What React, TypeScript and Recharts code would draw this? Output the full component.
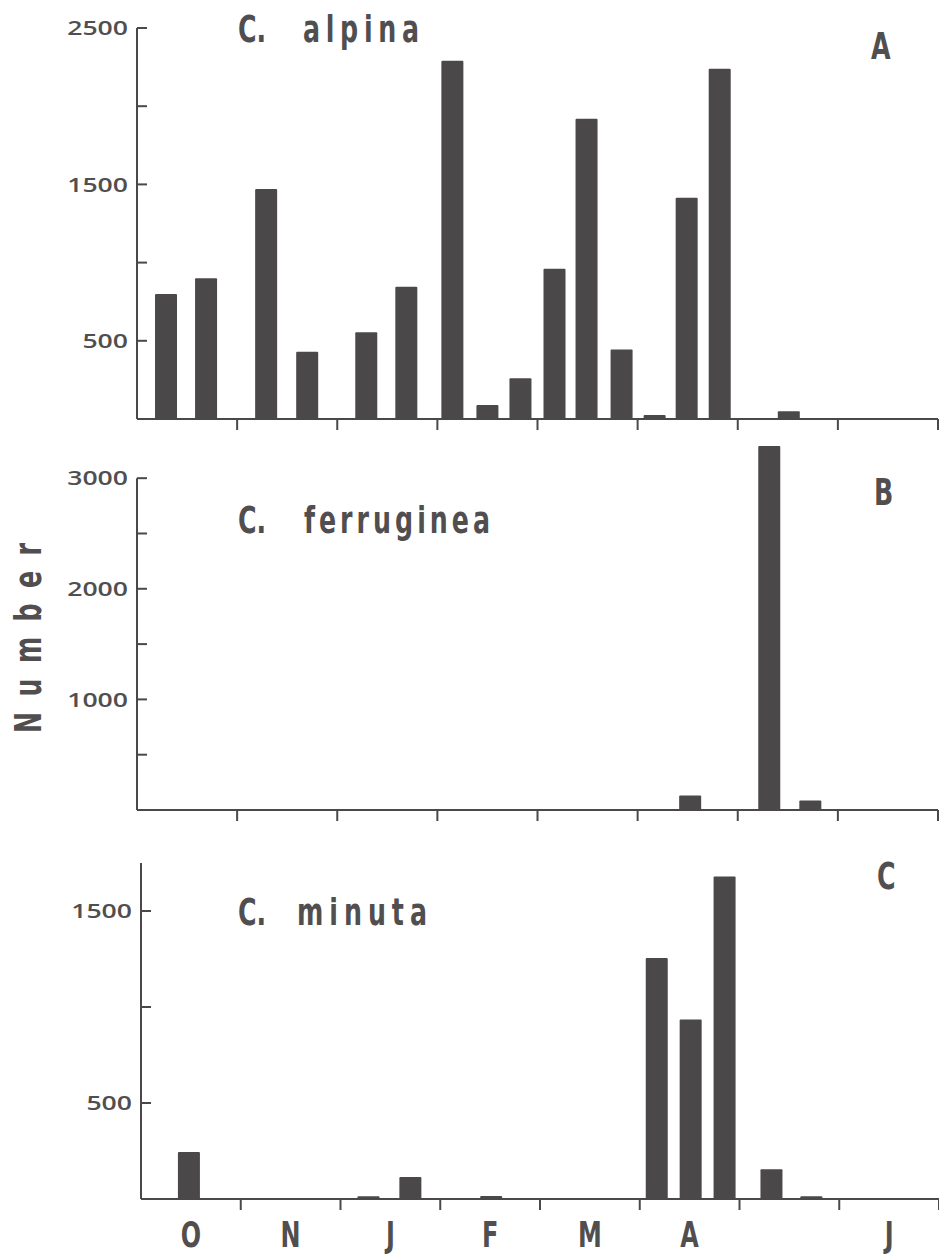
import { BarChart, Bar, XAxis, YAxis, ReferenceLine } from "recharts";

// month axis: 0 = start of first month, one unit per month
const monthTicks = [0.5, 1, 1.5, 2, 2.5, 3, 3.5, 4, 4.5, 5, 5.5, 6, 6.5, 7, 7.5, 8];
const monthLabels = ["O", "N", "J", "F", "M", "A", "", "J"];

// A — C. alpina
const alpinaTime = [0.29, 0.69, 1.29, 1.7, 2.29, 2.69, 3.15, 3.5, 3.83, 4.17, 4.49, 4.84, 5.17, 5.49, 5.82, 6.51];
const alpinaCount = [800, 900, 1470, 430, 555, 845, 2290, 90, 260, 960, 1920, 445, 25, 1415, 2240, 50];
const alpinaTicks = [500, 1000, 1500, 2000, 2500];
const alpinaLabels = [500, 1500, 2500];

// B — C. ferruginea
const ferrugineaTime = [5.52, 6.31, 6.72];
const ferrugineaCount = [130, 3290, 85];
const ferrugineaTicks = [500, 1000, 1500, 2000, 2500, 3000];
const ferrugineaLabels = [1000, 2000, 3000];

// C — C. minuta
const minutaTime = [0.48, 2.28, 2.7, 3.51, 5.17, 5.51, 5.85, 6.32, 6.72];
const minutaCount = [245, 14, 115, 16, 1255, 935, 1680, 155, 14];
const minutaTicks = [500, 1000, 1500];
const minutaLabels = [500, 1500];

const INK = "#4b4849";
const TEXT = "#514e4f";
const NARROW = "'DejaVu Sans Condensed', 'Liberation Sans Narrow', sans-serif";
const ROUND = "'Open Sans', 'DejaVu Sans', sans-serif";
const SQUEEZE = 0.76;

const toRows = (t: number[], n: number[]) => t.map((x, i) => ({ t: x, n: n[i] }));

// bold condensed lettering, squeezed horizontally like the typeset original
function Letters({ x, y, len, anchor = "start", rotate = 0, size = 37, children }: any) {
  return (
    <g transform={`translate(${x},${y}) rotate(${rotate}) scale(${SQUEEZE},1)`}>
      <text x={0} y={0} textAnchor={anchor} fontFamily={NARROW} fontWeight="bold" fontSize={size} fill={TEXT}
        textLength={len ? len / SQUEEZE : undefined} lengthAdjust="spacing">
        {children}
      </text>
    </g>
  );
}

const xTick = (showLabels: boolean) => (props: any) => {
  const { x, y, payload } = props;
  const v = payload.value;
  if (Number.isInteger(v)) {
    return <line x1={x} x2={x} y1={y} y2={y + 11} stroke={INK} strokeWidth={2} />;
  }
  if (!showLabels) return <g />;
  return <Letters x={x} y={y + 48} anchor="middle" size={35}>{monthLabels[Math.floor(v)]}</Letters>;
};

const yTick = (labelled: number[]) => (props: any) => {
  const { x, y, payload } = props;
  return (
    <g>
      <line x1={x} x2={x + 10} y1={y} y2={y} stroke={INK} strokeWidth={2} />
      {labelled.includes(payload.value) && (
        <g transform={`translate(${x - 9},${y}) scale(1.33,1)`}>
          <text x={0} y={0} dy="0.36em" textAnchor="end" fontFamily={ROUND} fontWeight={600} fontSize={20} fill={TEXT}>
            {String(payload.value)}
          </text>
        </g>
      )}
    </g>
  );
};

function Title({ y, name, nameX, nameLen, letter, lx, ly }: any) {
  return (
    <g>
      <Letters x={238} y={y}>C.</Letters>
      <Letters x={nameX} y={y} len={nameLen}>{name}</Letters>
      <Letters x={lx} y={ly}>{letter}</Letters>
    </g>
  );
}

export default function App() {
  return (
    <div style={{ position: "absolute", left: 0, top: 0, width: 939, height: 1255, background: "#fff" }}>
      <BarChart width={939} height={440} data={toRows(alpinaTime, alpinaCount)}
        margin={{ top: 28, right: 1, bottom: 0, left: 37 }}>
        <XAxis dataKey="t" type="number" domain={[0, 8]} ticks={monthTicks} interval={0} height={21}
          tickSize={0} tickMargin={0} tickLine={false} axisLine={{ stroke: INK, strokeWidth: 2 }} tick={xTick(false)} />
        <YAxis type="number" domain={[0, 2500]} ticks={alpinaTicks} interval={0} width={100}
          tickSize={0} tickMargin={0} tickLine={false} axisLine={{ stroke: INK, strokeWidth: 2 }} tick={yTick(alpinaLabels)} />
        <Bar dataKey="n" fill={INK} barSize={22} radius={[1, 1, 0, 0]} isAnimationActive={false} />
        <Title y={42} name="alpina" nameX={303} nameLen={116} letter="A" lx={871} ly={59} />
      </BarChart>

      <BarChart width={939} height={395} data={toRows(ferrugineaTime, ferrugineaCount)}
        margin={{ top: 5, right: 1, bottom: 0, left: 37 }}>
        <XAxis dataKey="t" type="number" domain={[0, 8]} ticks={monthTicks} interval={0} height={25}
          tickSize={0} tickMargin={0} tickLine={false} axisLine={{ stroke: INK, strokeWidth: 2 }} tick={xTick(false)} />
        <YAxis type="number" domain={[0, 3300]} ticks={ferrugineaTicks} interval={0} width={100}
          tickSize={0} tickMargin={0} tickLine={false} axisLine={false} tick={yTick(ferrugineaLabels)} />
        <ReferenceLine segment={[{ x: 0, y: 0 }, { x: 0, y: 3000 }]} stroke={INK} strokeWidth={2} />
        <Bar dataKey="n" fill={INK} barSize={22} radius={[1, 1, 0, 0]} isAnimationActive={false} />
        <Title y={93} name="ferruginea" nameX={304} nameLen={186} letter="B" lx={874} ly={65} />
        <Letters x={41} y={198} rotate={-90} anchor="middle" len={190}>Number</Letters>
      </BarChart>

      <BarChart width={939} height={420} data={toRows(minutaTime, minutaCount)}
        margin={{ top: 28, right: 0, bottom: 0, left: 41 }}>
        <XAxis dataKey="t" type="number" domain={[0, 8]} ticks={monthTicks} interval={0} height={56}
          tickSize={0} tickMargin={0} tickLine={false} axisLine={{ stroke: INK, strokeWidth: 2 }} tick={xTick(true)} />
        <YAxis type="number" domain={[0, 1750]} ticks={minutaTicks} interval={0} width={100}
          tickSize={0} tickMargin={0} tickLine={false} axisLine={{ stroke: INK, strokeWidth: 2 }} tick={yTick(minutaLabels)} />
        <Bar dataKey="n" fill={INK} barSize={22} radius={[1, 1, 0, 0]} isAnimationActive={false} />
        <Title y={90} name="minuta" nameX={297} nameLen={130} letter="C" lx={877} ly={54} />
      </BarChart>
    </div>
  );
}
